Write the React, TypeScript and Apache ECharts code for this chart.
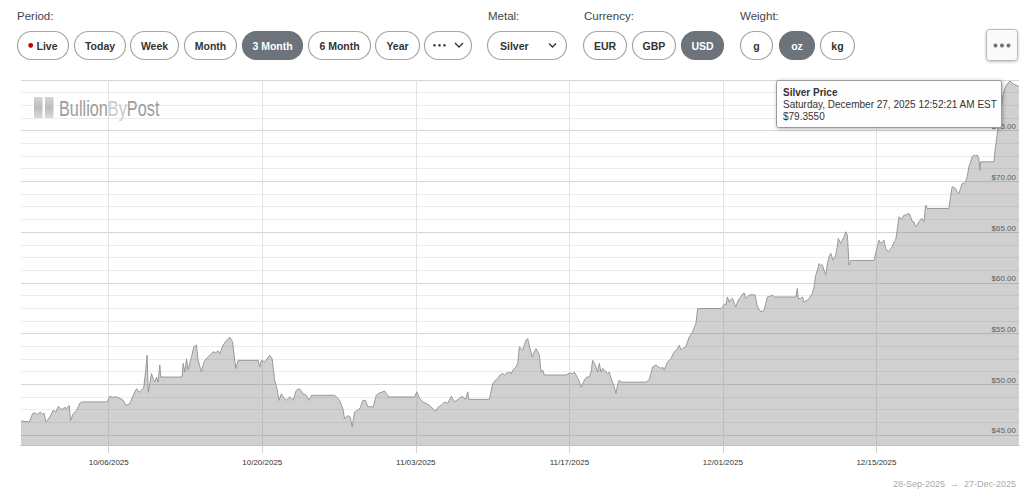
import React, { useEffect, useRef } from "react";
import * as echarts from "echarts";

// ---------- DATA ----------
const YEAR = 2025;
const seriesName = "Silver Price";

// timestamps (UTC, "MM-DD HH:mm") and prices (USD/oz)
const times: string[] = [
  "09-28 00:00","09-28 18:15","09-29 01:30","09-29 06:45","09-29 11:45","09-29 17:30","09-29 23:15","09-30 02:15","09-30 06:45","09-30 15:15","09-30 22:30","10-01 04:30","10-01 09:30","10-01 16:45","10-02 00:00","10-02 03:45","10-02 09:30","10-02 12:30","10-02 18:15","10-03 01:45","10-03 09:00","10-03 12:45","10-05 20:30",
  "10-06 02:30","10-06 09:45","10-06 17:00","10-07 00:30","10-07 07:45","10-07 13:30","10-07 18:30","10-07 22:15","10-08 05:30","10-08 13:00","10-08 18:30","10-08 23:45","10-09 04:45","10-09 09:00","10-09 12:00","10-09 14:30","10-09 18:00","10-09 21:30","10-10 01:15","10-10 04:45","10-10 08:45","10-10 12:00","10-10 15:45","10-10 18:00","10-12 16:30",
  "10-12 18:45","10-12 22:30","10-13 02:15","10-13 05:45","10-13 09:15","10-13 13:15","10-13 18:15","10-14 00:00","10-14 03:30","10-14 11:00","10-14 14:30","10-14 18:15","10-14 23:15","10-15 05:00","10-15 09:00","10-15 12:15","10-15 18:15","10-15 23:15","10-16 03:00","10-16 10:15","10-16 17:30","10-17 00:45","10-17 06:45","10-17 14:00","10-17 19:15","10-19 15:00",
  "10-19 18:30","10-19 22:00","10-20 05:15","10-20 10:15","10-20 16:15","10-20 21:30","10-21 03:00","10-21 08:15","10-21 12:45","10-21 17:45","10-21 21:30","10-22 04:45","10-22 12:00","10-22 19:15","10-23 02:30","10-23 09:45","10-23 17:00","10-24 00:30","10-24 06:15","10-24 11:30","10-26 14:30","10-26 21:30",
  "10-27 01:15","10-27 08:45","10-27 12:00","10-27 19:30","10-28 00:30","10-28 04:45","10-28 10:00","10-28 17:15","10-28 22:30","10-29 04:15","10-29 10:00","10-29 15:00","10-29 22:30","10-30 02:15","10-30 09:30","10-30 16:45","10-31 00:00","10-31 03:30","10-31 07:30","10-31 13:00","11-02 21:00",
  "11-03 02:15","11-03 08:15","11-03 15:15","11-03 22:45","11-04 06:00","11-04 13:15","11-04 19:15","11-05 00:00","11-05 07:15","11-05 15:00","11-05 22:00","11-06 05:30","11-06 12:45","11-06 20:00","11-07 05:30","11-07 12:45","11-07 17:45","11-07 20:00","11-09 17:00",
  "11-10 00:15","11-10 06:15","11-10 11:15","11-10 16:30","11-10 22:15","11-11 02:00","11-11 05:30","11-11 13:00","11-11 16:30","11-11 20:15","11-12 03:15","11-12 07:00","11-12 10:45","11-12 14:30","11-12 18:00","11-12 21:30","11-13 01:30","11-13 04:45","11-13 10:00","11-13 14:30","11-13 19:30","11-13 23:15","11-14 02:45","11-14 06:30","11-14 10:00","11-14 13:45","11-14 17:15","11-16 16:45",
  "11-17 00:00","11-17 07:15","11-17 10:45","11-17 14:30","11-17 20:30","11-18 01:45","11-18 09:00","11-18 14:00","11-18 19:45","11-18 23:30","11-19 03:00","11-19 06:45","11-19 10:15","11-19 14:00","11-19 17:30","11-19 21:15","11-20 00:45","11-20 04:30","11-20 08:15","11-20 11:45","11-20 15:15","11-20 19:15","11-20 22:30","11-21 02:30","11-21 06:00","11-21 09:30","11-21 13:15","11-21 17:00","11-23 23:45",
  "11-24 07:00","11-24 14:15","11-24 21:30","11-25 03:00","11-25 08:30","11-25 12:00","11-25 15:30","11-25 22:45","11-26 06:15","11-26 13:30","11-26 18:30","11-27 00:30","11-27 04:00","11-27 07:45","11-27 15:00","11-27 22:15","11-28 05:30","11-28 13:00","11-28 16:45","11-30 19:45",
  "11-30 23:00","12-01 03:00","12-01 06:30","12-01 10:00","12-01 13:45","12-01 17:30","12-01 21:00","12-02 00:45","12-02 04:15","12-02 08:00","12-02 11:30","12-02 15:15","12-02 18:45","12-02 22:30","12-03 02:15","12-03 05:45","12-03 09:15","12-03 16:45","12-03 22:30","12-04 03:30","12-04 11:00","12-04 18:15","12-04 21:45","12-05 01:30","12-05 06:45","12-05 12:30","12-05 16:00","12-07 15:30",
  "12-07 19:00","12-07 21:00","12-08 02:30","12-08 06:00","12-08 09:30","12-08 16:45","12-08 20:30","12-09 03:45","12-09 07:30","12-09 11:15","12-09 15:00","12-09 18:30","12-09 22:15","12-10 01:45","12-10 05:15","12-10 09:00","12-10 12:45","12-10 16:15","12-10 20:15","12-11 01:00","12-11 07:00","12-11 10:15","12-11 12:30","12-11 17:45","12-11 21:15","12-12 01:15","12-12 04:45","12-12 08:30","12-12 12:00","12-12 15:45","12-14 18:45",
  "12-14 22:15","12-15 02:00","12-15 05:30","12-15 09:15","12-15 13:00","12-15 16:30","12-15 20:15","12-16 02:00","12-16 07:15","12-16 10:30","12-16 14:30","12-16 18:00","12-16 21:30","12-17 01:15","12-17 05:00","12-17 08:45","12-17 12:15","12-17 15:45","12-17 19:30","12-17 23:15","12-18 03:00","12-18 06:30","12-18 10:00","12-18 14:00","12-18 17:15","12-18 21:00","12-19 03:00","12-19 08:00","12-19 11:45","12-19 15:15","12-21 14:30",
  "12-21 18:15","12-21 21:45","12-22 01:30","12-22 05:15","12-22 08:45","12-22 12:30","12-22 16:00","12-22 19:45","12-22 23:30","12-23 03:00","12-23 06:45","12-23 10:15","12-23 14:15","12-23 17:30","12-23 21:15","12-24 01:00","12-24 04:30","12-24 08:15","12-24 10:15","12-24 12:00","12-25 17:00","12-25 19:30","12-25 23:45","12-26 04:15","12-26 08:30","12-26 13:00","12-26 17:15","12-27 00:00","12-27 04:15","12-27 10:45","12-27 17:30","12-27 23:45",
];

const prices: number[] = [
  46.37,46.27,47.10,47.17,47.00,47.26,47.03,47.16,46.27,46.77,47.43,47.26,47.80,47.50,47.70,47.60,47.90,46.40,47.10,47.40,48.15,48.25,48.25,
  48.80,48.70,48.75,48.60,48.40,47.90,48.00,48.10,48.90,49.56,49.20,49.40,49.70,51.40,52.85,49.20,50.05,51.05,50.55,50.20,50.70,50.20,51.90,50.70,50.70,
  52.05,51.20,52.50,51.40,52.05,52.70,53.70,53.85,52.35,51.20,51.90,52.35,52.60,52.85,53.00,53.20,53.10,53.30,53.00,53.85,54.30,54.65,54.20,51.55,52.35,52.35,
  51.70,52.35,52.20,52.50,52.85,52.50,50.40,49.55,48.40,49.05,48.75,48.40,48.75,48.40,49.40,49.55,49.05,48.90,48.40,48.90,48.90,48.60,
  48.40,47.50,46.60,46.90,46.75,45.80,47.26,47.43,47.70,48.40,48.40,47.75,47.80,47.70,48.90,49.14,49.24,49.34,49.07,48.74,48.74,
  49.24,48.60,48.25,48.10,47.90,47.60,47.35,47.70,47.90,48.25,48.10,48.80,48.25,48.50,48.80,48.50,49.24,48.50,48.50,
  50.05,50.40,50.55,50.90,51.05,50.90,51.05,51.20,51.00,51.40,51.70,52.05,53.70,53.50,53.35,53.85,54.35,54.50,53.50,52.70,53.20,53.50,53.20,52.85,51.20,51.40,50.90,50.90,
  51.10,51.05,51.20,50.90,50.40,49.70,50.40,50.70,50.70,51.20,52.35,52.05,51.70,51.20,52.05,51.20,51.55,51.40,51.20,51.05,51.20,50.55,50.20,49.70,49.07,49.90,50.40,50.20,50.20,
  50.45,51.70,51.90,51.70,51.55,51.70,51.40,52.20,52.50,53.20,53.35,53.85,53.40,53.50,53.70,54.65,55.15,55.98,57.46,57.46,
  57.62,57.90,57.80,58.60,58.10,58.35,58.45,58.00,57.62,58.10,58.45,58.60,58.87,59.00,58.45,58.60,58.78,58.84,58.78,57.62,57.13,57.30,57.96,58.60,58.67,58.78,58.60,58.60,
  59.44,58.45,58.45,58.60,58.10,58.28,58.45,58.95,59.60,60.75,61.25,61.90,61.74,61.74,61.25,60.75,61.90,62.56,62.90,62.23,62.73,63.55,64.37,63.88,64.20,64.53,65.03,64.70,61.74,62.20,62.20,
  62.90,63.55,64.20,63.88,64.04,64.20,63.38,63.05,63.38,63.55,64.04,64.20,65.19,66.50,66.35,66.35,66.67,66.67,66.77,66.84,66.50,66.02,66.02,65.52,65.69,66.02,66.35,66.02,67.66,67.33,67.33,
  68.48,69.47,69.40,69.30,68.97,68.80,69.30,69.80,69.80,69.96,70.45,71.44,71.93,72.43,72.60,72.50,72.60,72.27,71.10,71.93,71.93,73.00,74.50,75.80,77.00,78.50,79.20,79.70,79.90,79.60,79.50,79.36,
];

const xRange = ["2025-09-28", "2025-12-28"];
const xTickDates = ["2025-10-06", "2025-10-20", "2025-11-03", "2025-11-17", "2025-12-01", "2025-12-15"];
const yRange = [44, 80];
const yLabelTicks = [45, 50, 55, 60, 65, 70, 75];
const yGridTicks = [45, 46.25, 47.5, 48.75, 50, 51.25, 52.5, 53.75, 55, 56.25, 57.5, 58.75, 60, 61.25, 62.5, 63.75, 65, 66.25, 67.5, 68.75, 70, 71.25, 72.5, 73.75, 75, 76.25, 77.5, 78.75, 80];

const periodLabels = ["Live", "Today", "Week", "Month", "3 Month", "6 Month", "Year"];
const currencyLabels = ["EUR", "GBP", "USD"];
const weightLabels = ["g", "oz", "kg"];
const tooltipLines = ["Silver Price", "Saturday, December 27, 2025 12:52:21 AM EST", "$79.3550"];
const rangeText = ["28-Sep-2025", "27-Dec-2025"];

// ---------- LAYOUT / STYLE ----------
const FONT = '"Liberation Sans", Arial, Helvetica, sans-serif';
const ACTIVE = "#6c737a";
const BORDER = "#a6a6a6";
const periodX = [17, 74, 130, 184, 242, 308, 375];
const periodW = [52, 52, 49, 53, 61, 63, 45];
const currencyX = [583, 632, 681];
const currencyW = [44, 44, 43];
const weightX = [740, 779, 820];
const weightW = [33, 36, 35];
const BTN_Y = 31;
const BTN_H = 29;

const toMs = (d: string) => Date.parse(d + "T00:00:00Z");
const pad = (n: number) => (n < 10 ? "0" + n : "" + n);

function pill(x: number, w: number, active: boolean, text: string | null, textX?: number): any[] {
  const els: any[] = [
    {
      type: "rect",
      shape: { x: x + 0.5, y: BTN_Y + 0.5, width: w - 1, height: BTN_H - 1, r: (BTN_H - 1) / 2 },
      style: { fill: active ? ACTIVE : "#fff", stroke: active ? ACTIVE : BORDER, lineWidth: 1.2 },
      z: 50,
    },
  ];
  if (text !== null) {
    els.push({
      type: "text",
      z: 51,
      style: {
        x: textX !== undefined ? textX : x + w / 2,
        y: BTN_Y + BTN_H / 2 + 0.5,
        text,
        align: textX !== undefined ? "left" : "center",
        verticalAlign: "middle",
        font: `bold 10.5px ${FONT}`,
        fill: active ? "#fff" : "#333",
      },
    });
  }
  return els;
}

function label(x: number, text: string) {
  return {
    type: "text",
    z: 51,
    style: { x, y: 16, text, align: "left", verticalAlign: "middle", font: `11.5px ${FONT}`, fill: "#444" },
  };
}

function buildGraphics(): any[] {
  const g: any[] = [];
  g.push(label(17, "Period:"), label(488, "Metal:"), label(584, "Currency:"), label(740, "Weight:"));
  periodLabels.forEach((t, i) => {
    if (i === 0) {
      g.push(...pill(periodX[i], periodW[i], false, t, 36.5));
      g.push({ type: "circle", z: 52, shape: { cx: 30.7, cy: 45.3, r: 2.4 }, style: { fill: "#c00000" } });
    } else {
      g.push(...pill(periodX[i], periodW[i], t === "3 Month", t));
    }
  });
  g.push(...pill(424, 48, false, null));
  [434.5, 439.5, 444.5].forEach((cx) =>
    g.push({ type: "circle", z: 52, shape: { cx, cy: 45.3, r: 1.3 }, style: { fill: "#333" } })
  );
  g.push({
    type: "polyline",
    z: 52,
    shape: { points: [[455, 43], [459, 47], [463, 43]] },
    style: { stroke: "#333", lineWidth: 1.3, fill: null },
  });
  g.push(...pill(487, 80, false, "Silver", 500));
  g.push({
    type: "polyline",
    z: 52,
    shape: { points: [[549, 43.5], [552.5, 47], [556, 43.5]] },
    style: { stroke: "#333", lineWidth: 1.3, fill: null },
  });
  currencyLabels.forEach((t, i) => g.push(...pill(currencyX[i], currencyW[i], t === "USD", t)));
  weightLabels.forEach((t, i) => g.push(...pill(weightX[i], weightW[i], t === "oz", t)));
  g.push({
    type: "rect",
    z: 50,
    shape: { x: 986.5, y: 29.5, width: 31, height: 31, r: 3 },
    style: {
      fill: "#fafafa",
      stroke: "#b8b8b8",
      lineWidth: 1,
      shadowBlur: 3,
      shadowColor: "rgba(0,0,0,0.25)",
      shadowOffsetX: 0,
      shadowOffsetY: 1,
    },
  });
  [995.5, 1002, 1008.5].forEach((cx) =>
    g.push({ type: "circle", z: 52, shape: { cx, cy: 45.5, r: 2 }, style: { fill: ACTIVE } })
  );

  // logo
  const barGrad = new echarts.graphic.LinearGradient(0, 0, 0, 1, [
    { offset: 0, color: "#d6d6d6" },
    { offset: 0.5, color: "#bcbcbc" },
    { offset: 1, color: "#dadada" },
  ]);
  g.push({ type: "rect", z: 10, shape: { x: 34, y: 97, width: 8.5, height: 21 }, style: { fill: barGrad } });
  g.push({ type: "rect", z: 10, shape: { x: 45, y: 97, width: 8.5, height: 21 }, style: { fill: barGrad } });
  g.push({
    type: "text",
    z: 10,
    x: 59,
    y: 108,
    scaleX: 0.74,
    style: {
      x: 0,
      y: 0,
      text: "{a|Bullion}{b|By}{a|Post}",
      verticalAlign: "middle",
      align: "left",
      font: `22px ${FONT}`,
      rich: {
        a: { fill: "#9c9c9c", font: `22px ${FONT}` },
        b: { fill: "#cccccc", font: `22px ${FONT}` },
      },
    },
  });

  // tooltip
  g.push({
    type: "rect",
    z: 100,
    shape: { x: 776.5, y: 80.5, width: 225, height: 47, r: 2 },
    style: {
      fill: "rgba(255,255,255,0.97)",
      stroke: "#9a9a9a",
      lineWidth: 1,
      shadowBlur: 4,
      shadowColor: "rgba(0,0,0,0.3)",
      shadowOffsetX: 1,
      shadowOffsetY: 1,
    },
  });
  tooltipLines.forEach((t, i) =>
    g.push({
      type: "text",
      z: 101,
      style: {
        x: 783,
        y: 92 + i * 12,
        text: t,
        align: "left",
        verticalAlign: "middle",
        font: `${i === 0 ? "bold " : ""}10px ${FONT}`,
        fill: "#333",
      },
    })
  );

  // date range
  g.push({
    type: "text",
    z: 10,
    style: {
      x: 1016,
      y: 484,
      text: `${rangeText[0]}  \u2192  ${rangeText[1]}`,
      align: "right",
      verticalAlign: "middle",
      font: `9px ${FONT}`,
      fill: "#aaaaaa",
    },
  });
  return g;
}

export default function App() {
  const ref = useRef<HTMLDivElement>(null);
  useEffect(() => {
    if (!ref.current) return;
    const chart = echarts.init(ref.current, null, { renderer: "svg" });
    const n = Math.min(times.length, prices.length);
    const data: [number, number][] = [];
    for (let i = 0; i < n; i++) {
      const t = times[i];
      data.push([Date.parse(`${YEAR}-${t.slice(0, 5)}T${t.slice(6)}:00Z`), prices[i]]);
    }
    const xTicks = xTickDates.map(toMs);
    const gridColors = ["#d6d6d6", "#ececec", "#ececec", "#ececec"];

    chart.setOption({
      animation: false,
      useUTC: true,
      backgroundColor: "#fff",
      textStyle: { fontFamily: FONT },
      grid: { left: 21, right: 5, top: 80, bottom: 47, containLabel: false },
      xAxis: {
        type: "value",
        min: toMs(xRange[0]),
        max: toMs(xRange[1]),
        axisLine: { show: true, lineStyle: { color: "#c0c0c0", width: 1 } },
        axisTick: { show: true, customValues: xTicks, length: 8, lineStyle: { color: "#d0d0d0" } },
        axisLabel: {
          customValues: xTicks,
          fontSize: 8,
          color: "#333",
          margin: 13,
          fontFamily: FONT,
          formatter: (v: number) => {
            const d = new Date(v);
            return `${pad(d.getUTCMonth() + 1)}/${pad(d.getUTCDate())}/${d.getUTCFullYear()}`;
          },
        },
        splitLine: { show: true, lineStyle: { color: "#e3e3e3", width: 1 } },
      },
      yAxis: {
        type: "value",
        position: "right",
        min: yRange[0],
        max: yRange[1],
        axisLine: { show: false },
        axisTick: { show: false, customValues: yGridTicks },
        axisLabel: {
          customValues: yLabelTicks,
          inside: true,
          margin: 3,
          fontSize: 8,
          color: "#555",
          fontFamily: FONT,
          verticalAlign: "bottom",
          formatter: (v: number) => "$" + v.toFixed(2),
        },
        splitLine: { show: true, lineStyle: { color: gridColors, width: 1 } },
      },
      series: [
        {
          name: seriesName,
          type: "line",
          data,
          symbol: "none",
          showSymbol: false,
          lineStyle: { color: "#999999", width: 1 },
          areaStyle: { color: "rgba(110,110,110,0.32)", opacity: 1, origin: "start" },
          z: 3,
        },
      ],
      graphic: buildGraphics(),
    });
    return () => chart.dispose();
  }, []);
  return (
    <div
      ref={ref}
      style={{ position: "fixed", left: 0, top: 0, width: 1024, height: 492, background: "#fff" }}
    />
  );
}
